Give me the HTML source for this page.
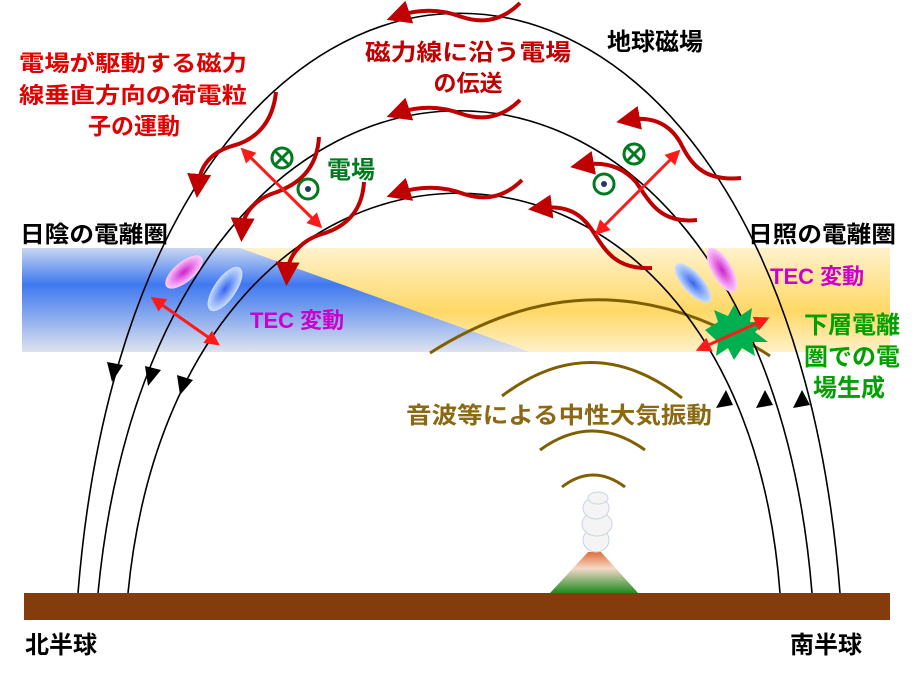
<!DOCTYPE html>
<html><head><meta charset="utf-8"><style>html,body{margin:0;padding:0;background:#fff}svg{display:block}text{font-family:"Liberation Sans","Noto Sans CJK JP",sans-serif;font-weight:bold}</style></head><body>
<svg width="922" height="676" viewBox="0 0 922 676" xmlns="http://www.w3.org/2000/svg">
<defs>
<linearGradient id="bl" x1="0" y1="0" x2="0" y2="1">
<stop offset="0" stop-color="#c9d6f2"/><stop offset="0.35" stop-color="#3f78f0"/><stop offset="0.6" stop-color="#7aa0ee"/><stop offset="1" stop-color="#dfe3ee"/></linearGradient>
<linearGradient id="yl" x1="0" y1="0" x2="0" y2="1">
<stop offset="0" stop-color="#fff2cc"/><stop offset="0.6" stop-color="#ffd866"/><stop offset="1" stop-color="#fff0c8"/></linearGradient>
<linearGradient id="vol" x1="0" y1="0" x2="0" y2="1">
<stop offset="0" stop-color="#e0703a"/><stop offset="0.4" stop-color="#f4d8c8"/><stop offset="1" stop-color="#1f8a1f"/></linearGradient>
<radialGradient id="mg"><stop offset="0" stop-color="#cc22cc"/><stop offset="1" stop-color="#ffccff"/></radialGradient>
<radialGradient id="bg"><stop offset="0" stop-color="#3366ee"/><stop offset="1" stop-color="#cce0ff"/></radialGradient>
<marker id="ra" markerWidth="6" markerHeight="6" refX="3" refY="3" orient="auto" markerUnits="strokeWidth"><path d="M0,0 L6,3 L0,6 z" fill="#c00000"/></marker>
<marker id="rb" markerWidth="5" markerHeight="5" refX="3" refY="2.5" orient="auto" markerUnits="strokeWidth"><path d="M0,0 L5,2.5 L0,5 z" fill="#ff1a1a"/></marker>
<marker id="rs" markerWidth="5" markerHeight="5" refX="2" refY="2.5" orient="auto-start-reverse" markerUnits="strokeWidth"><path d="M0,0 L5,2.5 L0,5 z" fill="#ff1a1a"/></marker>
</defs>
<rect x="22" y="248" width="868" height="104" fill="url(#yl)"/>
<polygon points="22,248 240,248 530,352 22,352" fill="url(#bl)"/>
<rect x="24" y="593" width="866" height="27" fill="#843c0c"/>
<polygon points="550,593 638,593 601,552 588,552" fill="url(#vol)"/>
<g fill="#f4f4f4" stroke="#c8d4e4" stroke-width="1">
<ellipse cx="596" cy="540" rx="13" ry="12"/><ellipse cx="597" cy="524" rx="15" ry="12"/><ellipse cx="596" cy="508" rx="13" ry="11"/><ellipse cx="598" cy="498" rx="10" ry="6"/>
</g>
<g fill="none" stroke="#7f6000" stroke-width="3">
<path d="M430,353 Q600,245 770,356"/>
<path d="M502,396 Q592,328 682,398"/>
<path d="M540,450 Q592,412 645,450"/>
<path d="M562,487 Q593,463 625,487"/>
</g>
<g fill="none" stroke="#000" stroke-width="1.6">
<path d="M78,593 C140,-180 780,-180 840,593"/>
<path d="M98,593 C160,-50 760,-50 812,593"/>
<path d="M128,593 C180,60 740,60 780,593"/>
</g>
<g fill="#000">
<polygon points="107,362 123,365 112,382"/><polygon points="145,366 161,370 148,386"/><polygon points="177,375 193,380 180,395"/>
<polygon points="726,390 716,408 733,405"/><polygon points="765,390 756,408 773,405"/><polygon points="802,390 793,408 810,405"/>
</g>
<ellipse cx="184" cy="272" rx="23" ry="10" transform="rotate(-40 184 272)" fill="url(#mg)"/>
<ellipse cx="225" cy="289" rx="26" ry="11" transform="rotate(-55 225 289)" fill="url(#bg)"/>
<ellipse cx="693" cy="283" rx="25" ry="10" transform="rotate(48 693 283)" fill="url(#bg)"/>
<ellipse cx="722" cy="270" rx="25" ry="10" transform="rotate(60 722 270)" fill="url(#mg)"/>
<polygon points="705,330 718,322 714,310 728,316 734,305 740,316 752,308 750,322 766,322 755,332 768,342 752,342 755,356 742,348 734,360 728,348 716,356 718,342" fill="#00b050"/>
<g fill="none" stroke="#c00000" stroke-width="4" marker-end="url(#ra)">
<path d="M520,3 Q495,28 462,17 Q430,5 398,16"/>
<path d="M520,100 Q495,125 462,114 Q430,102 398,113"/>
<path d="M522,180 Q497,205 464,194 Q432,182 398,193"/>
<path d="M276,92 C272,130 248,142 232,146 C212,152 200,165 198,186"/>
<path d="M319,137 C317,172 295,185 277,192 C257,198 243,212 242,230"/>
<path d="M364,182 C362,215 342,228 322,234 C302,240 288,255 287,274"/>
<path d="M741,178 C702,182 690,162 680,142 C668,122 650,116 628,120"/>
<path d="M697,220 C660,224 650,202 636,182 C622,166 604,161 582,165"/>
<path d="M652,268 C615,270 605,250 592,230 C580,212 565,205 540,208"/>
</g>
<g fill="none" stroke="#ff1a1a" stroke-width="3" marker-end="url(#rb)" marker-start="url(#rs)">
<line x1="247" y1="154" x2="318" y2="224"/>
<line x1="674" y1="156" x2="599" y2="231"/>
<line x1="158" y1="302" x2="215" y2="342"/>
<line x1="704" y1="347" x2="764" y2="320"/>
</g>
<g fill="none" stroke="#007a1e" stroke-width="3">
<circle cx="282" cy="158" r="10"/><line x1="275" y1="151" x2="289" y2="165"/><line x1="289" y1="151" x2="275" y2="165"/>
<circle cx="308" cy="189" r="10"/>
<circle cx="634" cy="154" r="10"/><line x1="627" y1="147" x2="641" y2="161"/><line x1="641" y1="147" x2="627" y2="161"/>
<circle cx="604" cy="184" r="10"/>
</g>
<circle cx="308" cy="189" r="3" fill="#1f3a6a"/><circle cx="604" cy="184" r="3" fill="#1f3a6a"/>
<g font-size="22" fill="#e00000" text-anchor="middle">
<text x="133" y="71" textLength="228" lengthAdjust="spacingAndGlyphs">電場が駆動する磁力</text>
<text x="133" y="103" textLength="228" lengthAdjust="spacingAndGlyphs">線垂直方向の荷電粒</text>
<text x="134" y="134" font-size="23">子の運動</text>
</g>
<g font-size="23" fill="#c00000" text-anchor="middle">
<text x="468" y="60" textLength="206" lengthAdjust="spacingAndGlyphs">磁力線に沿う電場</text>
<text x="468" y="91">の伝送</text>
</g>
<text x="607" y="50" font-size="24" fill="#000">地球磁場</text>
<text x="327" y="178" font-size="24" fill="#007a1e">電場</text>
<text x="20" y="242" font-size="23" fill="#000" textLength="148" lengthAdjust="spacingAndGlyphs">日陰の電離圏</text>
<text x="748" y="242" font-size="23" fill="#000" textLength="148" lengthAdjust="spacingAndGlyphs">日照の電離圏</text>
<text x="250" y="328" font-size="22" fill="#cc00cc">TEC 変動</text>
<text x="770" y="284" font-size="22" fill="#cc00cc">TEC 変動</text>
<g font-size="24" fill="#00a000" text-anchor="middle">
<text x="852" y="333">下層電離</text><text x="852" y="365">圏での電</text><text x="849" y="396">場生成</text>
</g>
<text x="406" y="423" font-size="23" fill="#8b6914" textLength="306" lengthAdjust="spacingAndGlyphs">音波等による中性大気振動</text>
<text x="25" y="653" font-size="24" fill="#000">北半球</text>
<text x="790" y="653" font-size="24" fill="#000">南半球</text>
</svg>
</body></html>
